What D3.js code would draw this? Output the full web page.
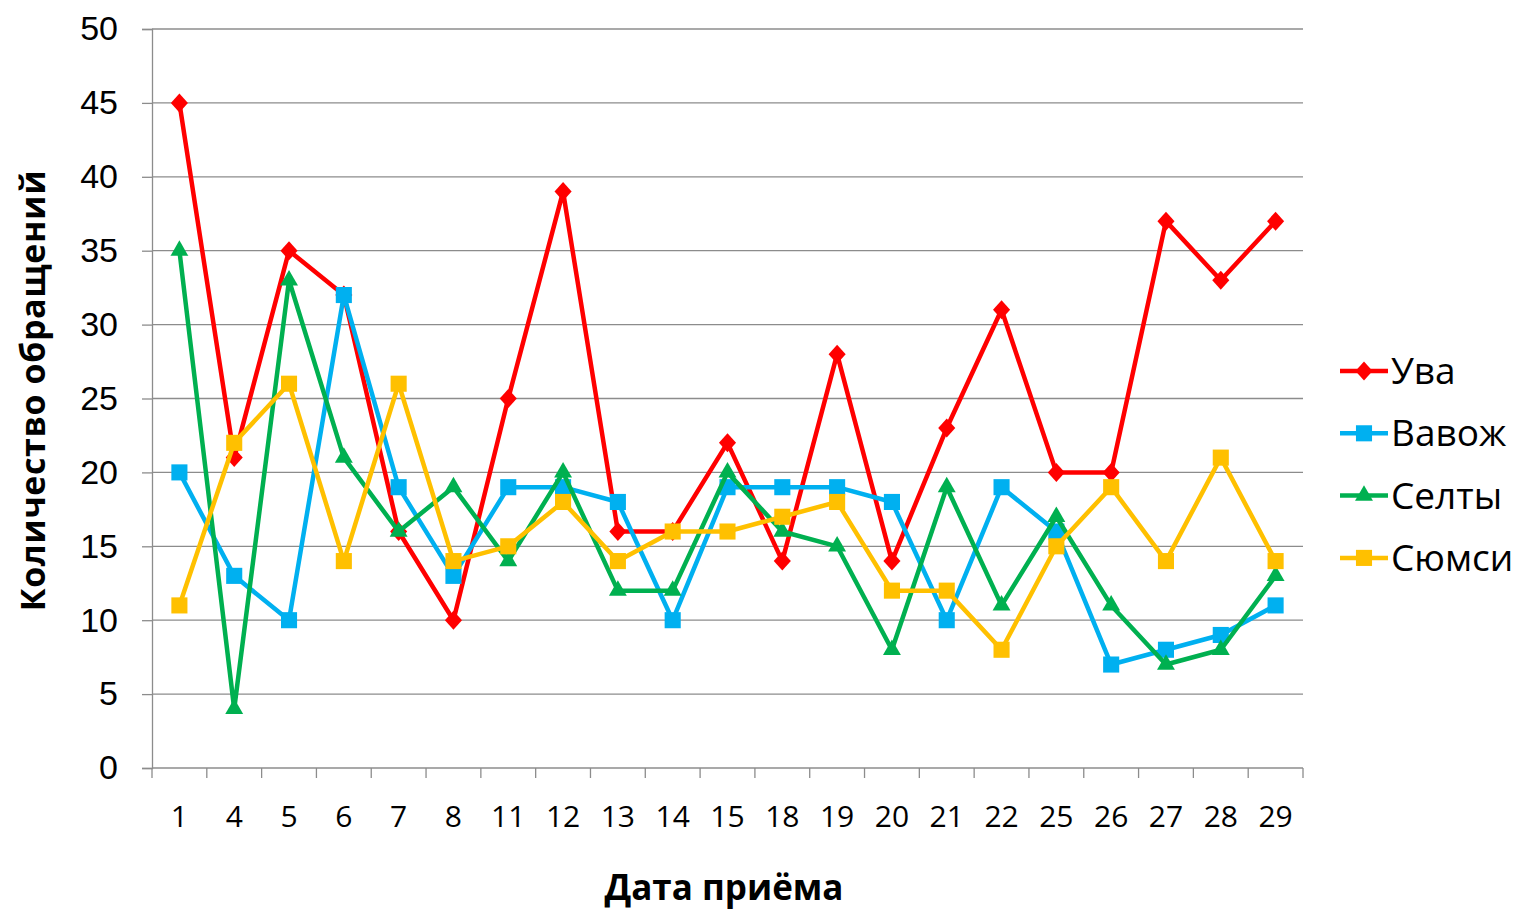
<!DOCTYPE html>
<html>
<head>
<meta charset="utf-8">
<script src="https://cdn.jsdelivr.net/npm/d3@7"></script>
<style>
  body { margin: 0; background: #fff; }
  svg text { fill: #000; }
</style>
</head>
<body>
<div id="chart"></div>
<script>
// data
var dates = ["1", "4", "5", "6", "7", "8", "11", "12", "13", "14", "15", "18", "19", "20", "21", "22", "25", "26", "27", "28", "29"];
var uva    = [45, 21, 35, 32, 16, 10, 25, 39, 16, 16, 22, 14, 28, 14, 23, 31, 20, 20, 37, 33, 37];
var vavozh = [20, 13, 10, 32, 19, 13, 19, 19, 18, 10, 19, 19, 19, 18, 10, 19, 16, 7, 8, 9, 11];
var selty  = [35, 4, 33, 21, 16, 19, 14, 20, 12, 12, 20, 16, 15, 8, 19, 11, 17, 11, 7, 8, 13];
var syumsi = [11, 22, 26, 14, 26, 14, 15, 18, 14, 16, 16, 17, 18, 12, 12, 8, 15, 19, 14, 21, 14];
var seriesNames = ["Ува", "Вавож", "Селты", "Сюмси"];
var yTicks = [0, 5, 10, 15, 20, 25, 30, 35, 40, 45, 50];

var series = [
  { name: seriesNames[0], values: uva, color: "#ff0000", shape: "diamond" },
  { name: seriesNames[1], values: vavozh, color: "#00b0f0", shape: "square" },
  { name: seriesNames[2], values: selty, color: "#00b050", shape: "triangle" },
  { name: seriesNames[3], values: syumsi, color: "#ffc000", shape: "square" }
];

const margin = { top: 29, right: 218, bottom: 142, left: 152 };
var W = 1521, H = 910;
var width = W - margin.left - margin.right;
var height = H - margin.top - margin.bottom;

var svg = d3.select("#chart").append("svg")
  .attr("width", W).attr("height", H);

var g = svg.append("g")
  .attr("transform", `translate(${margin.left}, ${margin.top})`);

var x = d3.scaleBand().domain(dates).range([0, width]);
var y = d3.scaleLinear().domain([0, 50]).range([height, 0]);

// gridlines
g.selectAll(".grid").data(yTicks.filter(d => d > 0)).enter()
  .append("line")
  .attr("x1", 0).attr("x2", width)
  .attr("y1", d => y(d)).attr("y2", d => y(d))
  .attr("stroke", "#8c8c8c").attr("stroke-width", 1.3);

// y axis
var yAxis = d3.axisLeft(y).tickValues(yTicks).tickSize(10).tickPadding(24);
var yg = g.append("g").call(yAxis);
yg.select(".domain").attr("stroke", "#8c8c8c").attr("stroke-width", 1.3);
yg.selectAll(".tick line").attr("stroke", "#8c8c8c").attr("stroke-width", 1.3);
yg.selectAll("text").attr("font-family", "Liberation Sans, Arial, sans-serif").attr("font-size", 34).attr("fill", "#000");

// x axis: ticks between categories
var xg = g.append("g").attr("transform", `translate(0, ${height})`);
xg.append("line").attr("x1", 0).attr("x2", width).attr("y1", 0).attr("y2", 0)
  .attr("stroke", "#8c8c8c").attr("stroke-width", 1.3);
var bounds = d3.range(dates.length + 1).map(i => i * x.step());
xg.selectAll(".xt").data(bounds).enter().append("line")
  .attr("x1", d => d).attr("x2", d => d).attr("y1", 0).attr("y2", 10)
  .attr("stroke", "#8c8c8c").attr("stroke-width", 1.3);
xg.selectAll(".xl").data(dates).enter().append("text")
  .attr("x", d => x(d) + x.bandwidth() / 2)
  .attr("y", 59)
  .attr("text-anchor", "middle")
  .attr("font-family", "Open Sans, sans-serif")
  .attr("font-size", 30)
  .text(d => d);

// axis titles
svg.append("text")
  .attr("transform", `translate(45, ${margin.top + height / 2 - 8}) rotate(-90)`)
  .attr("text-anchor", "middle")
  .attr("font-family", "Open Sans, sans-serif")
  .attr("font-weight", "bold")
  .attr("font-size", 34)
  .attr("letter-spacing", 0.6)
  .text("Количество обращений");

svg.append("text")
  .attr("x", 724).attr("y", 900)
  .attr("text-anchor", "middle")
  .attr("font-family", "Open Sans, sans-serif")
  .attr("font-weight", "bold")
  .attr("font-size", 35)
  .text("Дата приёма");

function markerPath(shape) {
  if (shape === "diamond") return d3.symbol().type(d3.symbolDiamond2).size(230)();
  if (shape === "triangle") return d3.symbol().type(d3.symbolTriangle2).size(230)();
  return d3.symbol().type(d3.symbolSquare2).size(330)();
}

var line = d3.line()
  .x((d, i) => x(dates[i]) + x.bandwidth() / 2)
  .y(d => y(d));

series.forEach(function (s) {
  var sg = g.append("g");
  sg.append("path")
    .attr("d", line(s.values))
    .attr("fill", "none")
    .attr("stroke", s.color)
    .attr("stroke-width", 4.5)
    .attr("stroke-linejoin", "round");
  sg.selectAll("path.m").data(s.values).enter().append("path")
    .attr("class", "m")
    .attr("d", markerPath(s.shape))
    .attr("transform", (d, i) => `translate(${x(dates[i]) + x.bandwidth() / 2}, ${y(d)})` + (s.shape === "diamond" ? " scale(0.9,1)" : ""))
    .attr("fill", s.color);
});

// legend
var legend = svg.append("g").attr("transform", "translate(1340, 371)");
series.forEach(function (s, i) {
  var lg = legend.append("g").attr("transform", `translate(0, ${i * 62.3})`);
  lg.append("line").attr("x1", 0).attr("x2", 48).attr("y1", 0).attr("y2", 0)
    .attr("stroke", s.color).attr("stroke-width", 4.5);
  lg.append("path").attr("d", markerPath(s.shape))
    .attr("transform", `translate(24, 0)` + (s.shape === "diamond" ? " scale(0.9,1)" : ""))
    .attr("fill", s.color);
  lg.append("text").attr("x", 51).attr("y", 13)
    .attr("font-family", "Open Sans, sans-serif")
    .attr("font-size", 37)
    .text(s.name);
});
</script>
</body>
</html>
